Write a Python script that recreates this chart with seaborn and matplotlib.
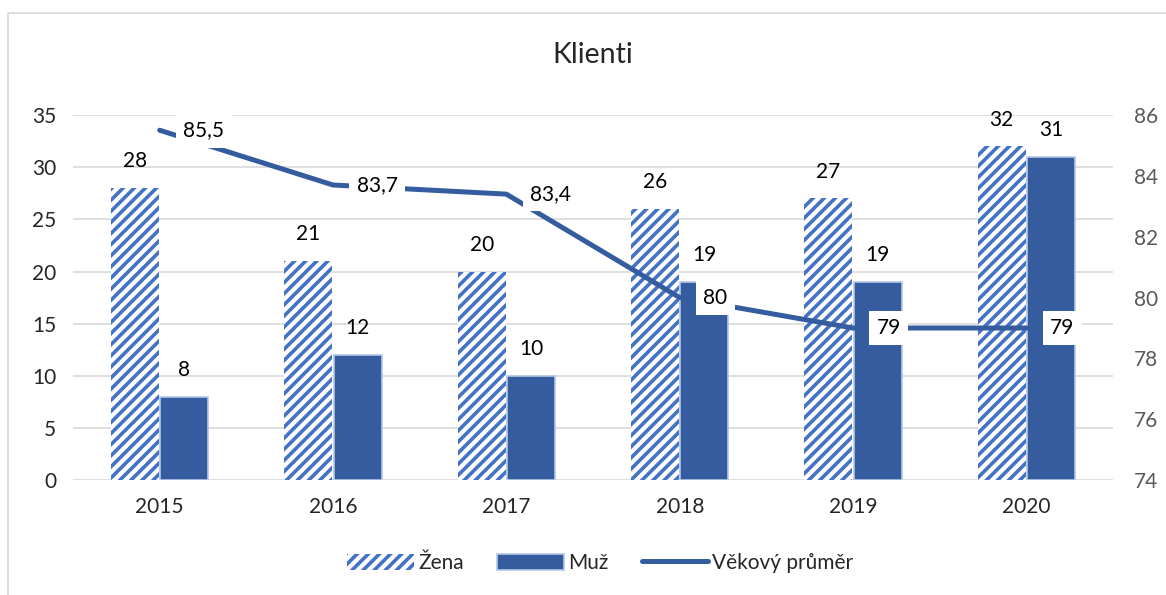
import pandas as pd
import matplotlib.pyplot as plt
import seaborn as sns
from matplotlib.patches import Patch, Rectangle
from matplotlib.lines import Line2D

# chart data
years = ['2015', '2016', '2017', '2018', '2019', '2020']
zena = [28, 21, 20, 26, 27, 32]
muz = [8, 12, 10, 19, 19, 31]
vek_prumer = [85.5, 83.7, 83.4, 80, 79, 79]

zena_color = '#4472C4'
muz_color = '#345C9E'
line_color = '#345C9E'

sns.set_style('white')
plt.rcParams['font.family'] = ['Lato', 'DejaVu Sans']
plt.rcParams['hatch.linewidth'] = 2.6

df = pd.DataFrame({
    'Rok': years * 2,
    'Počet': zena + muz,
    'Pohlaví': ['Žena'] * len(years) + ['Muž'] * len(years),
})

fig = plt.figure(figsize=(11.66, 5.95), dpi=100)
ax = fig.add_axes([0.0626, 0.193, 0.892, 0.6137])

sns.barplot(data=df, x='Rok', y='Počet', hue='Pohlaví', hue_order=['Žena', 'Muž'],
            palette=[zena_color, muz_color], width=0.57, gap=0.03, ax=ax, legend=False)

# hatched bars for Žena, solid with light edge for Muž
for bar in ax.containers[0]:
    bar.set_facecolor('white')
    bar.set_edgecolor(zena_color)
    bar.set_hatch('///')
    bar.set_linewidth(0)
for bar in ax.containers[1]:
    bar.set_facecolor(muz_color)
    bar.set_edgecolor('#B4C7E7')
    bar.set_linewidth(1.2)

for cont in ax.containers:
    ax.bar_label(cont, fmt='%d', padding=12, fontsize=15, color='black')

ax.set_ylim(0, 35)
ax.set_yticks(range(0, 36, 5))
ax.set_xlim(-0.5, 5.5)
ax.yaxis.grid(True, color='#D9D9D9', linewidth=1.2)
ax.set_axisbelow(True)
ax.set_xlabel('')
ax.set_ylabel('')
ax.tick_params(axis='y', labelsize=15, labelcolor='#262626', length=0, pad=12)
ax.tick_params(axis='x', labelsize=15, labelcolor='#262626', length=0, pad=12)
sns.despine(ax=ax, left=True, right=True, top=True, bottom=True)

# average age line on secondary axis
ax2 = ax.twinx()
sns.lineplot(x=list(range(len(years))), y=vek_prumer, ax=ax2, color=line_color,
             linewidth=3.6, solid_capstyle='round')
ax2.set_ylim(74, 86)
ax2.set_yticks(range(74, 87, 2))
ax2.tick_params(axis='y', labelsize=15, labelcolor='#595959', length=0, pad=15)
ax2.set_ylabel('')
sns.despine(ax=ax2, left=True, right=True, top=True, bottom=True)
ax2.grid(False)

for i, v in enumerate(vek_prumer):
    label = f'{v:g}'.replace('.', ',')
    ax2.annotate(label, (i, v), xytext=(17, 0), textcoords='offset points',
                 ha='left', va='center', fontsize=15, color='black',
                 bbox=dict(boxstyle='square,pad=0.35', fc='white', ec='none'))

fig.suptitle('Klienti', fontsize=20.5, x=0.508, y=0.93)

handles = [
    Patch(facecolor='white', edgecolor=zena_color, hatch='///', linewidth=0, label='Žena'),
    Patch(facecolor=muz_color, edgecolor='#B4C7E7', linewidth=1.2, label='Muž'),
    Line2D([0], [0], color=line_color, linewidth=3.6, label='Věkový průměr'),
]
fig.legend(handles=handles, loc='center', bbox_to_anchor=(0.515, 0.054), ncol=3,
           frameon=False, fontsize=15, handlelength=3.2, handleheight=0.8,
           handletextpad=0.2, columnspacing=1.6)

# chart frame
fig.patches.append(Rectangle((8 / 1166, -0.1), 1.2, 1.1 - 13 / 595, transform=fig.transFigure,
                             fill=False, edgecolor='#D9D9D9', linewidth=1.2))

fig.savefig('out.png', dpi=100)
